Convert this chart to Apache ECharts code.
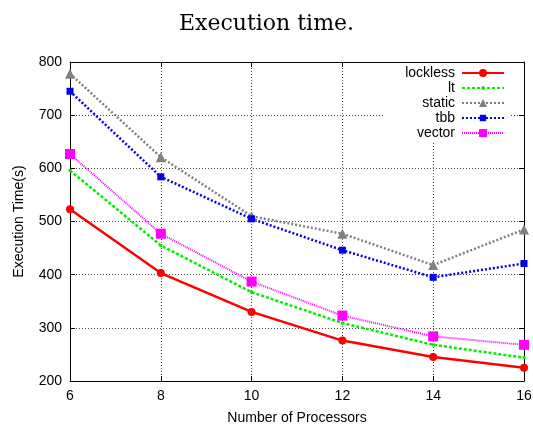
<!DOCTYPE html>
<html lang="en">
<head>
    <meta charset="UTF-8">
    <title>Execution time.</title>
    <style>
        html, body { margin: 0; padding: 0; background: #fff; }
        #main { width: 533px; height: 427px; }
    </style>
</head>
<body>
    <div id="main"></div>
    <script src="https://cdn.jsdelivr.net/npm/echarts@6/dist/echarts.min.js"></script>
    <script>
        // processors on the x axis
        var processors = [6, 8, 10, 12, 14, 16];
        // execution time (s) per implementation
        var lockless = [523, 403, 330, 276, 245, 225];
        var lt = [596, 455, 367, 309, 268, 244];
        var staticT = [778, 621, 510, 477, 418, 485];
        var tbb = [745, 584, 505, 446, 395, 421];
        var vector = [627, 477, 387, 323, 284, 268];

        function pairs(vals) {
            return processors.map(function (p, i) { return [p, vals[i]]; });
        }

        var font = 'Liberation Sans';

        var series = [
            { name: 'lockless', data: lockless, color: '#ff0000', width: 2.5, dash: 'solid', symbol: 'circle', size: 8, icon: 10 },
            { name: 'lt', data: lt, color: '#00ee00', width: 2.5, dash: [3, 2], symbol: 'rect', size: 3, icon: 4 },
            { name: 'static', data: staticT, color: '#808080', width: 2.5, dash: [2, 2], symbol: 'triangle', size: 10, icon: 10 },
            { name: 'tbb', data: tbb, color: '#0000ee', width: 2.5, dash: [2, 2], symbol: 'rect', size: 7, icon: 8 },
            { name: 'vector', data: vector, color: '#ff00ff', width: 2, dash: [1, 1], symbol: 'rect', size: 10, icon: 10 }
        ];

        // one legend per row so text is right aligned and the samples line up
        var legendRows = [73, 88, 103, 118, 133];
        var legends = series.map(function (s, i) {
            return {
                data: [s.name],
                right: 28,
                top: legendRows[i] - 8,
                align: 'right',
                padding: 0,
                itemWidth: 42,
                itemHeight: s.icon,
                itemGap: 0,
                textStyle: { fontFamily: font, fontSize: 14, color: '#000', padding: [0, 2, 0, 0], height: 16, lineHeight: 16 }
            };
        });

        var option = {
            animation: false,
            backgroundColor: '#fff',
            title: {
                text: 'Execution time.',
                left: 'center',
                top: 8,
                textStyle: { fontFamily: 'DejaVu Serif', fontWeight: 'normal', fontSize: 22, color: '#000' }
            },
            legend: legends,
            grid: { left: 70, right: 9, top: 62, bottom: 46, containLabel: false, outerBoundsMode: 'none' },
            graphic: [{
                type: 'rect',
                z: 3,
                shape: { x: 383, y: 63, width: 126, height: 79 },
                style: { fill: '#fff' }
            }],
            xAxis: [{
                type: 'value',
                min: 6, max: 16, interval: 2,
                name: 'Number of Processors',
                nameLocation: 'middle',
                nameGap: 30,
                nameTextStyle: { fontFamily: font, fontSize: 14, color: '#000' },
                axisLine: { lineStyle: { color: '#000', width: 1 } },
                axisTick: { inside: true, length: 5, lineStyle: { color: '#000' } },
                axisLabel: { fontFamily: font, fontSize: 14, color: '#000', margin: 8 },
                splitLine: { show: true, lineStyle: { color: '#444', width: 1, type: [1, 2] } }
            }, {
                type: 'value',
                position: 'top',
                min: 6, max: 16, interval: 2,
                axisLine: { lineStyle: { color: '#000', width: 1 } },
                axisTick: { inside: true, length: 5, lineStyle: { color: '#000' } },
                axisLabel: { show: false },
                splitLine: { show: false }
            }],
            yAxis: [{
                type: 'value',
                min: 200, max: 800, interval: 100,
                name: 'Execution Time(s)',
                nameLocation: 'middle',
                nameGap: 44,
                nameTextStyle: { fontFamily: font, fontSize: 14, color: '#000' },
                axisLine: { show: true, lineStyle: { color: '#000', width: 1 } },
                axisTick: { show: true, inside: true, length: 5, lineStyle: { color: '#000' } },
                axisLabel: { fontFamily: font, fontSize: 14, color: '#000', margin: 8 },
                splitLine: { show: true, lineStyle: { color: '#444', width: 1, type: [1, 2] } }
            }, {
                type: 'value',
                position: 'right',
                min: 200, max: 800, interval: 100,
                axisLine: { show: true, lineStyle: { color: '#000', width: 1 } },
                axisTick: { show: true, inside: true, length: 5, lineStyle: { color: '#000' } },
                axisLabel: { show: false },
                splitLine: { show: false }
            }],
            series: series.map(function (s) {
                return {
                    name: s.name,
                    type: 'line',
                    data: pairs(s.data),
                    symbol: s.symbol,
                    symbolSize: s.size,
                    showAllSymbol: true,
                    itemStyle: { color: s.color, borderWidth: 0 },
                    lineStyle: { color: s.color, width: s.width, type: s.dash },
                    emphasis: { disabled: true },
                    z: 5
                };
            })
        };

        var myChart = echarts.init(document.getElementById('main'));
        myChart.setOption(option);
    </script>
</body>
</html>
